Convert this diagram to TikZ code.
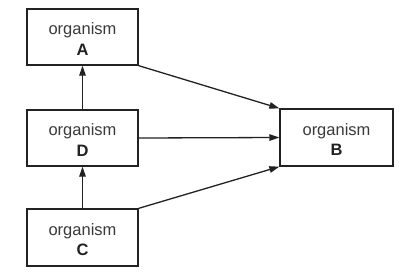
\documentclass[tikz,border=0pt]{standalone}
\usepackage{fontspec}
\setmainfont{Liberation Sans}
\usetikzlibrary{arrows.meta}
\definecolor{linec}{HTML}{222222}
\definecolor{txtc}{HTML}{3A3A3A}
\begin{document}
\begin{tikzpicture}[x=1pt,y=-1pt,
  orgbox/.style={draw=linec,line width=1.3pt,rectangle,minimum width=111pt,minimum height=56pt,inner sep=0pt},
  orgtxt/.style={align=center,text=txtc,font=\fontsize{16.5}{20.6}\selectfont,inner sep=0pt,yshift=-2.2pt},
  conn/.style={draw=linec,line width=1.3pt,-{Stealth[length=10pt,width=6.5pt,inset=0pt]}}]
\useasboundingbox (0,0) rectangle (419,276);
\fill[white] (0,0) rectangle (419,276);
\node[orgbox,label={[orgtxt]center:organism\\\textbf{\color{linec}A}}] (A) at (82.5,37) {};
\node[orgbox,label={[orgtxt]center:organism\\\textbf{\color{linec}D}}] (D) at (82.5,138) {};
\node[orgbox,minimum height=57pt,label={[orgtxt]center:organism\\\textbf{\color{linec}C}}] (C) at (82.5,237.5) {};
\node[orgbox,minimum width=113pt,minimum height=57pt,label={[orgtxt]center:organism\\\textbf{\color{linec}B}}] (B) at (336.5,137.5) {};
\draw[conn] (D.north) -- (A.south);
\draw[conn] (C.north) -- (D.south);
\draw[conn] (A.south east) -- (B.north west);
\draw[conn] (D.east) -- (B.west);
\draw[conn] (C.north east) -- (B.south west);
\end{tikzpicture}
\end{document}
